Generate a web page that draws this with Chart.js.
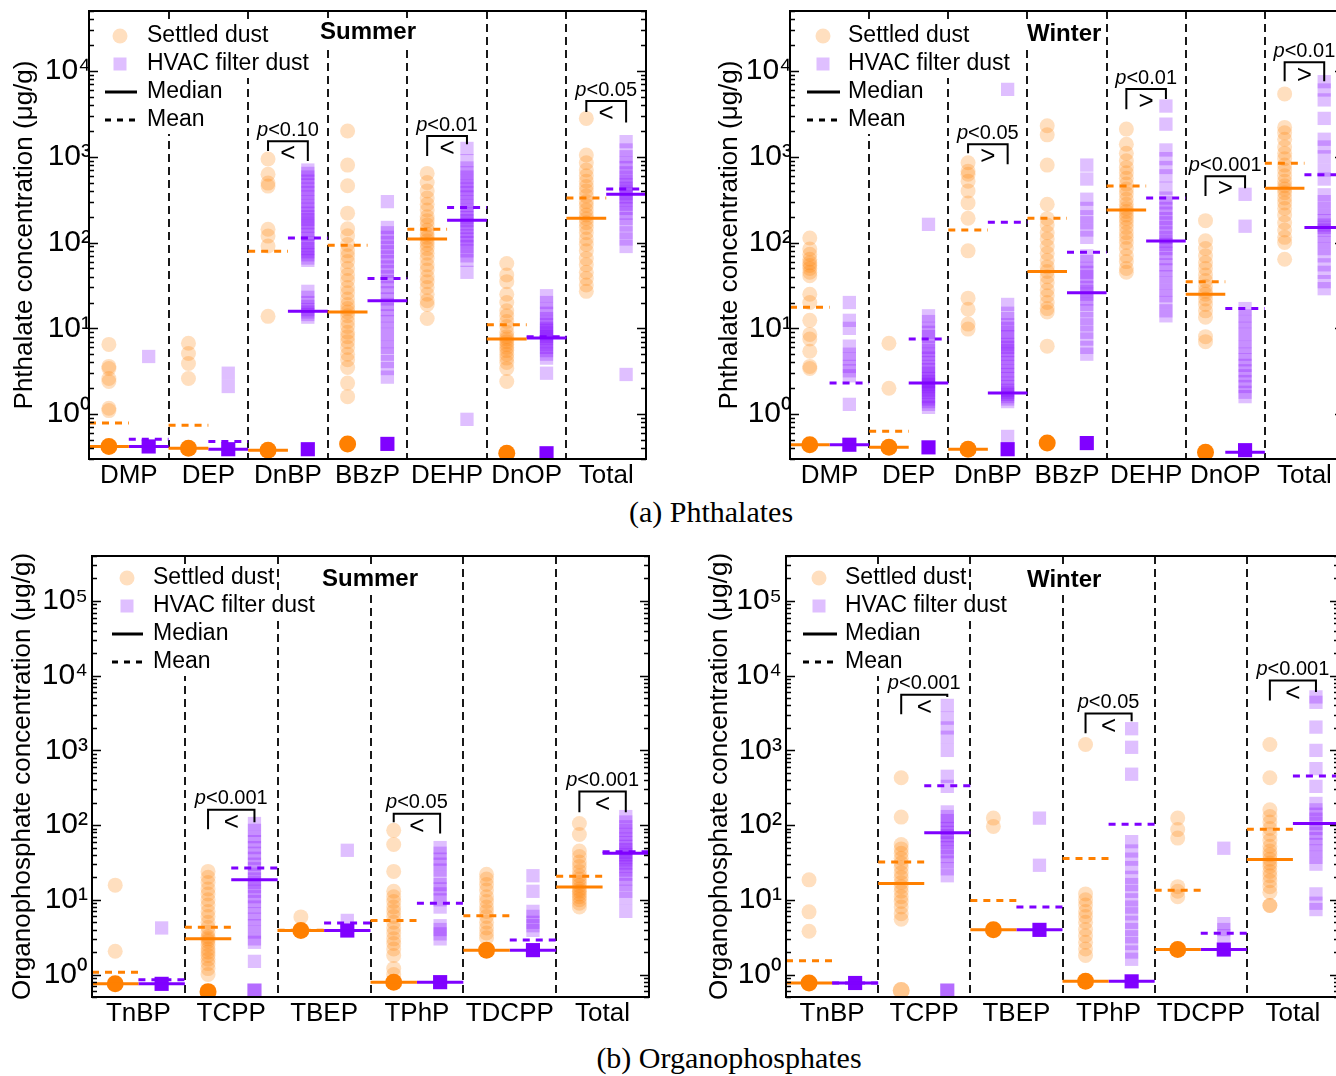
<!DOCTYPE html>
<html><head><meta charset="utf-8">
<script src="https://cdn.jsdelivr.net/npm/chart.js@4.4.1/dist/chart.umd.min.js"></script>
<style>
html,body{margin:0;padding:0;background:#fff;overflow:hidden;width:1336px;height:1076px;position:relative;}
canvas{position:absolute;}
.cap{position:absolute;font-family:'Liberation Serif','Times New Roman',serif;font-size:30px;color:#000;white-space:nowrap;transform:translate(-50%,-50%);line-height:1;}
</style></head><body>
<canvas id="c1" width="660" height="495" style="left:0;top:0"></canvas>
<canvas id="c2" width="660" height="495" style="left:700px;top:0"></canvas>
<canvas id="c3" width="660" height="495" style="left:0;top:540px"></canvas>
<canvas id="c4" width="660" height="495" style="left:700px;top:540px"></canvas>
<div class="cap" style="left:711px;top:512px">(a) Phthalates</div>
<div class="cap" style="left:729px;top:1058px">(b) Organophosphates</div>
<script>
// ---------------- DATA ----------------
const phCats = ['DMP','DEP','DnBP','BBzP','DEHP','DnOP','Total'];
const opCats = ['TnBP','TCPP','TBEP','TPhP','TDCPP','Total'];
const phYTicks = [1, 10, 100, 1000, 10000];
const opYTicks = [1, 10, 100, 1000, 10000, 100000];
const phRange = [0.3, 50000];
const opRange = [0.5, 400000];
const legendLabels = ['Settled dust', 'HVAC filter dust', 'Median', 'Mean'];

// Phthalates, summer
const phSumSettled = [
  [6.5, 3.6, 3.4, 2.6, 2.4, 1.17, 1.1],
  [6.7, 5.1, 3.9, 2.6],
  [940, 626, 493, 455, 143, 119, 91, 13.8],
  [2000, 800, 460, 220, 145, 120, 95, 80, 70, 60, 50, 42, 36, 30, 26, 22, 19, 17, 15.5, 14, 12, 10.5, 9, 8, 7, 6, 5, 4.3, 3.5, 2.3, 1.6],
  [640, 500, 400, 330, 280, 240, 200, 180, 160, 140, 125, 115, 105, 95, 85, 75, 65, 55, 48, 40, 35, 30, 25, 21, 19, 13],
  [57, 42, 35, 25, 20, 16, 14, 12, 10.5, 9, 8, 7.5, 7, 6.5, 6, 5.5, 5, 4.5, 4, 3.4, 2.4],
  [2800, 1050, 850, 700, 600, 520, 450, 400, 350, 300, 270, 240, 210, 190, 170, 150, 130, 110, 95, 80, 65, 55, 45, 38, 32, 27]
];
const phSumHvac = [
  [4.7],
  [3.0, 2.1],
  [700, 640, 580, 520, 470, 420, 380, 340, 300, 270, 245, 220, 200, 185, 170, 155, 140, 125, 112, 100, 92, 85, 78, 72, 66, 62, 27, 23, 20, 18, 16.5, 15.5, 14.5, 13.5],
  [300, 150, 130, 115, 100, 88, 78, 68, 60, 52, 46, 40, 35, 30, 26, 22, 19, 16.5, 14, 12, 10, 8.5, 7, 6, 5, 4.1, 3.4, 2.7],
  [1250, 900, 740, 650, 580, 520, 460, 420, 380, 340, 300, 270, 240, 215, 195, 180, 165, 150, 135, 120, 110, 100, 90, 80, 70, 62, 45, 0.87],
  [24, 20, 17, 15, 13, 12, 11, 10, 9.5, 9, 8.5, 8, 7.7, 7, 6.5, 6, 5.5, 5, 4.5, 3.0],
  [1500, 1200, 1000, 850, 750, 650, 580, 520, 470, 430, 400, 370, 340, 310, 280, 250, 220, 190, 160, 130, 110, 90, 2.9]
];
const phSumSettledND = [0.42, 0.40, 0.38, 0.45, null, 0.35, null];
const phSumHvacND    = [0.42, 0.39, 0.39, 0.45, null, 0.35, null];
const phSumSettledNDn = [20, 20, 20, 20, 0, 20, 0];
const phSumHvacNDn    = [20, 20, 20, 20, 0, 20, 0];
const phSumSettledMedian = [0.42, 0.40, 0.38, 15.5, 110, 7.5, 192];
const phSumHvacMedian    = [0.42, 0.39, 15.8, 21, 182, 7.7, 366];
const phSumSettledMean   = [0.79, 0.74, 79, 93, 143, 11, 330];
const phSumHvacMean      = [0.51, 0.48, 113, 38, 257, 8, 420];
const phSumBrCat   = [2, 4, 6];
const phSumBrP     = ['<0.10', '<0.01', '<0.05'];
const phSumBrSign  = ['<', '<', '<'];
const phSumBrTop   = [1520, 1740, 4460];
const phSumBrLeft  = [1170, 1020, 3330];
const phSumBrRight = [890, 1400, 2510];

// Phthalates, winter
const phWinSettled = [
  [113, 84, 73, 64, 58, 54, 50, 45, 41, 25, 20, 12.4, 8.5, 7.5, 5.4, 3.6, 3.4],
  [6.7, 2.0],
  [850, 680, 625, 520, 400, 290, 192, 80, 22.5, 16.7, 11.2, 9.8],
  [2300, 1800, 800, 280, 190, 160, 130, 110, 90, 75, 62, 52, 46, 40, 34, 28, 24, 20, 17, 15.5, 6.2],
  [2100, 1400, 1100, 900, 750, 650, 560, 480, 420, 370, 320, 280, 250, 230, 210, 190, 170, 150, 130, 115, 100, 85, 70, 60, 50, 45],
  [180, 105, 85, 70, 58, 50, 42, 36, 31, 27, 25, 22, 19, 16, 13.5, 8, 7],
  [5400, 2200, 1900, 1600, 1300, 1100, 950, 800, 700, 600, 520, 460, 420, 380, 330, 290, 250, 210, 170, 140, 115, 100, 64]
];
const phWinHvac = [
  [20, 12.4, 10, 6.2, 5, 4.4, 3.6, 3.2, 2.8, 1.3],
  [163, 14, 12, 10, 9, 8, 7, 6, 5.5, 5, 4.5, 4, 3.6, 3.3, 3, 2.8, 2.6, 2.4, 2.3, 2.2, 2.1, 2, 1.9, 1.8, 1.6, 1.5, 1.4, 1.3, 1.2],
  [6100, 19, 15, 13, 11, 10, 9, 8, 7, 6.5, 6, 5.5, 5, 4.5, 4, 3.6, 3.2, 2.9, 2.6, 2.3, 2.1, 1.9, 1.8, 1.7, 1.6, 1.5, 1.4, 0.55],
  [800, 550, 320, 250, 200, 170, 140, 115, 70, 60, 50, 45, 40, 35, 30, 27, 25, 22, 19, 16, 13, 11, 9, 7.5, 6, 5],
  [3900, 2400, 1200, 950, 750, 600, 430, 330, 290, 250, 220, 190, 170, 150, 130, 115, 104, 95, 85, 75, 65, 55, 48, 40, 34, 28, 24, 20, 16, 14],
  [365, 155, 17, 14, 12, 10, 8.5, 7, 6, 5, 4.3, 3.7, 3.2, 2.8, 2.4, 2.1, 1.8, 1.6],
  [7500, 6000, 4600, 2800, 1600, 1300, 1000, 700, 550, 360, 300, 250, 210, 180, 160, 150, 140, 120, 100, 85, 70, 55, 45, 35, 29]
];
const phWinSettledND = [0.44, 0.41, 0.39, 0.46, null, 0.36, null];
const phWinHvacND    = [0.44, 0.41, 0.39, 0.46, null, 0.38, null];
const phWinSettledNDn = [20, 20, 20, 20, 0, 20, 0];
const phWinHvacNDn    = [20, 20, 20, 20, 0, 20, 0];
const phWinSettledMedian = [0.44, 0.41, 0.39, 46, 240, 25, 430];
const phWinHvacMedian    = [0.44, 2.3, 1.76, 26, 104, 0.36, 150];
const phWinSettledMean   = [17.6, 0.63, 140, 192, 455, 35, 840];
const phWinHvacMean      = [2.3, 7.5, 173, 77, 330, 17, 615];
const phWinBrCat   = [2, 4, 5, 6];
const phWinBrP     = ['<0.05', '<0.01', '<0.001', '<0.01'];
const phWinBrSign  = ['>', '>', '>', '>'];
const phWinBrTop   = [1400, 6150, 594, 12600];
const phWinBrLeft  = [1100, 3590, 348, 7600];
const phWinBrRight = [820, 4700, 430, 7600];

// Organophosphates, summer
const opSumSettled = [
  [15.7, 2.05],
  [24, 20, 17, 14, 12, 10, 8.5, 7, 6, 5, 4.3, 3.7, 3.2, 3.0, 2.8, 2.5, 2.2, 2.0, 1.8, 1.6, 1.4, 1.2, 1.0],
  [5.9],
  [85, 55, 24, 13, 11, 9.5, 8, 7, 6, 5, 4.2, 3.6, 3, 2.6, 2.2, 1.8, 1.2, 1.0],
  [22, 19, 16, 13.5, 11, 9.5, 8, 7, 6, 5, 4.2, 3.6, 3.1],
  [105, 75, 45, 38, 32, 28, 24, 21, 19, 17, 15.5, 14, 13, 12, 11, 10, 9, 8]
];
const opSumHvac = [
  [4.2],
  [105, 85, 70, 60, 50, 42, 36, 30, 26, 22, 19, 17, 15, 13, 11, 9.5, 8, 6.5, 5.5, 4.5, 3.7, 3, 2.7, 1.5],
  [46, 5.3],
  [50, 42, 35, 30, 25, 20, 16, 14, 12, 10, 8, 4.5, 4, 3.5, 3.0],
  [21, 13, 7, 6, 5, 4.5, 3.9],
  [130, 110, 95, 85, 75, 65, 58, 52, 47, 43, 40, 37, 34, 31, 28, 25, 22, 19, 16, 13, 10.5, 7]
];
const opSumSettledND = [0.75, 0.59, 3.88, 0.79, 2.12, null];
const opSumHvacND    = [0.75, 0.61, 3.88, 0.79, 2.12, null];
const opSumSettledNDn = [20, 20, 20, 20, 20, 0];
const opSumHvacNDn    = [20, 3, 20, 20, 20, 0];
const opSumSettledMedian = [0.75, 3.0, 3.88, 0.79, 2.12, 14.8];
const opSumHvacMedian    = [0.75, 18.5, 3.88, 0.79, 2.12, 42];
const opSumSettledMean   = [1.07, 4.3, 3.9, 5.3, 6.1, 20.6];
const opSumHvacMean      = [0.85, 26.6, 4.9, 9.0, 2.9, 44];
const opSumBrCat   = [1, 3, 5];
const opSumBrP     = ['<0.001', '<0.05', '<0.001'];
const opSumBrSign  = ['<', '<', '<'];
const opSumBrTop   = [161, 142, 281];
const opSumBrLeft  = [88, 109, 149];
const opSumBrRight = [109, 77, 149];

// Organophosphates, winter
const opWinSettled = [
  [18.5, 6.9, 3.8],
  [430, 128, 55, 48, 42, 36, 31, 27, 23, 20, 17, 15, 13, 11, 9.5, 8, 6.5, 5.5],
  [124, 96],
  [1200, 12, 10, 8.5, 7, 6, 5, 4, 3.3, 2.7, 2.2, 1.8],
  [124, 87, 67, 15, 13, 11],
  [1200, 430, 160, 130, 110, 90, 75, 62, 52, 45, 40, 35, 31, 28, 24, 21, 18, 15, 12.6, 8.4, 8.4]
];
const opWinHvac = [
  [],
  [4000, 2700, 2000, 1500, 1000, 450, 330, 150, 130, 115, 100, 90, 80, 72, 65, 58, 50, 44, 38, 32, 26, 21],
  [124, 29],
  [1950, 1100, 480, 60, 45, 35, 27, 20, 16, 13, 10, 8, 6.5, 5, 4, 3.2, 2.6, 2, 1.6],
  [49, 4.8, 4, 3.3],
  [5200, 4400, 2050, 1000, 570, 330, 195, 160, 140, 120, 105, 90, 78, 66, 55, 45, 37, 30, 12, 9, 7.4]
];
const opWinSettledND = [0.77, 0.61, 3.96, 0.81, 2.16, null];
const opWinHvacND    = [0.77, 0.61, 3.96, 0.81, 2.16, null];
const opWinSettledNDn = [20, 2, 20, 20, 20, 0];
const opWinHvacNDn    = [20, 3, 20, 20, 20, 0];
const opWinSettledMedian = [0.77, 16.5, 3.96, 0.81, 2.16, 34.7];
const opWinHvacMedian    = [0.77, 79, 3.96, 0.81, 2.16, 105];
const opWinSettledMean   = [1.53, 32, 9.8, 35.7, 13.4, 88];
const opWinHvacMean      = [0.77, 337, 8.0, 103, 3.56, 453];
const opWinBrCat   = [1, 3, 5];
const opWinBrP     = ['<0.001', '<0.05', '<0.001'];
const opWinBrSign  = ['<', '<', '<'];
const opWinBrTop   = [5560, 3110, 8590];
const opWinBrLeft  = [3040, 1700, 4650];
const opWinBrRight = [5170, 2460, 6050];

// ---------------- STYLE / LAYOUT ----------------
const FONT = "'Liberation Sans', Arial, Helvetica, sans-serif";
const ORANGE = [255, 128, 0], PURPLE = [127, 0, 255];
const col = (c, a) => `rgba(${c[0]},${c[1]},${c[2]},${a})`;
const SUP = {'0':'⁰','1':'¹','2':'²','3':'³','4':'⁴','5':'⁵','6':'⁶','7':'⁷','8':'⁸','9':'⁹','-':'⁻'};
const supLabel = v => { const e = Math.round(Math.log10(v)); return '10' + String(e).split('').map(c => SUP[c]).join(''); };

const decor = {
  id: 'decor',
  beforeDatasetsDraw(chart, args, o) {
    const {ctx, chartArea: a, scales: {x}} = chart;
    ctx.save();
    ctx.strokeStyle = '#000'; ctx.lineWidth = 1.8; ctx.setLineDash([8, 5]);
    for (let i = 0; i < o.n - 1; i++) {
      const px = Math.round(x.getPixelForValue(i + 0.5));
      ctx.beginPath(); ctx.moveTo(px, a.top); ctx.lineTo(px, a.bottom); ctx.stroke();
    }
    ctx.setLineDash([]);
    ctx.fillStyle = '#fff';
    ctx.font = `23px ${FONT}`;
    legendLabels.forEach((t, k) => {
      const w = ctx.measureText(t).width;
      const cy = a.top + o.lg.y + k * 28;
      ctx.fillRect(a.left + o.lg.text - 2, cy - 14, w + 4, 28);
    });
    ctx.font = `bold 24px ${FONT}`;
    const tw = ctx.measureText(o.title).width;
    ctx.fillRect(a.left + o.tpos.x - 2, a.top + o.tpos.y - 14, tw + 4, 28);
    ctx.restore();
  },
  afterDatasetsDraw(chart, args, o) {
    const {ctx, chartArea: a, scales: {x, y}} = chart;
    ctx.save();
    // legend
    const mx = a.left + o.lg.mark, ty = k => a.top + o.lg.y + k * 28;
    ctx.fillStyle = col(ORANGE, 0.25);
    ctx.beginPath(); ctx.arc(mx, ty(0), 7.5, 0, Math.PI * 2); ctx.fill();
    ctx.fillStyle = col(PURPLE, 0.25);
    ctx.fillRect(mx - 6.5, ty(1) - 6.5, 13, 13);
    ctx.strokeStyle = '#000'; ctx.lineWidth = 3;
    ctx.beginPath(); ctx.moveTo(a.left + o.lg.line[0], ty(2)); ctx.lineTo(a.left + o.lg.line[1], ty(2)); ctx.stroke();
    ctx.setLineDash([6, 6]);
    ctx.beginPath(); ctx.moveTo(a.left + o.lg.line[0], ty(3)); ctx.lineTo(a.left + o.lg.line[1], ty(3)); ctx.stroke();
    ctx.setLineDash([]);
    ctx.fillStyle = '#000'; ctx.textBaseline = 'middle'; ctx.textAlign = 'left';
    ctx.font = `23px ${FONT}`;
    legendLabels.forEach((t, k) => ctx.fillText(t, a.left + o.lg.text, ty(k)));
    ctx.font = `bold 24px ${FONT}`;
    ctx.fillText(o.title, a.left + o.tpos.x, a.top + o.tpos.y);
    // significance brackets
    o.br.cat.forEach((i, k) => {
      const xl = x.getPixelForValue(i - 0.25), xr = x.getPixelForValue(i + 0.25);
      const yt = y.getPixelForValue(o.br.top[k]);
      const yl = y.getPixelForValue(o.br.left[k]), yr = y.getPixelForValue(o.br.right[k]);
      ctx.strokeStyle = '#000'; ctx.lineWidth = 2;
      ctx.beginPath(); ctx.moveTo(xl, yl); ctx.lineTo(xl, yt); ctx.lineTo(xr, yt); ctx.lineTo(xr, yr); ctx.stroke();
      ctx.font = `italic 20px ${FONT}`; const wp = ctx.measureText('p').width;
      ctx.font = `20px ${FONT}`; const wr = ctx.measureText(o.br.p[k]).width;
      const cx = (xl + xr) / 2, x0 = cx - (wp + wr) / 2;
      ctx.font = `italic 20px ${FONT}`; ctx.fillText('p', x0, yt - 11);
      ctx.font = `20px ${FONT}`; ctx.fillText(o.br.p[k], x0 + wp, yt - 11);
      ctx.font = `26px ${FONT}`; ctx.textAlign = 'center';
      ctx.fillText(o.br.sign[k], cx, yt + 13);
      ctx.textAlign = 'left';
    });
    // frame and inward log ticks
    ctx.strokeStyle = '#000'; ctx.lineWidth = 2;
    ctx.strokeRect(a.left, a.top, a.right - a.left, a.bottom - a.top);
    ctx.lineWidth = 1.5;
    const lo = Math.floor(Math.log10(y.min)), hi = Math.ceil(Math.log10(y.max));
    for (let e = lo; e <= hi; e++) {
      for (let m = 1; m <= 9; m++) {
        const v = m * Math.pow(10, e);
        if (v < y.min || v > y.max) continue;
        const py = Math.round(y.getPixelForValue(v)) + 0.5, len = m === 1 ? 9 : 5;
        ctx.beginPath();
        ctx.moveTo(a.left, py); ctx.lineTo(a.left + len, py);
        ctx.moveTo(a.right, py); ctx.lineTo(a.right - len, py);
        ctx.stroke();
      }
    }
    ctx.restore();
  }
};

const LAYOUT = {
  c1: {w: 660, h: 495, left: 89, right: 646, top: 11, bottom: 459, titlePad: 9, tickPad: -2, xPad: 1,
       lg: {mark: 31, text: 58, y: 25, line: [16, 48]}, tpos: {x: 231, y: 21}},
  c2: {w: 660, h: 495, left: 90, right: 644, top: 11, bottom: 459, titlePad: 14, tickPad: -2, xPad: 1,
       lg: {mark: 33, text: 58, y: 25, line: [17, 50]}, tpos: {x: 237, y: 23}},
  c3: {w: 660, h: 495, left: 92, right: 649, top: 16, bottom: 457, titlePad: 7, tickPad: 4, xPad: 1,
       lg: {mark: 35, text: 61, y: 22, line: [20, 51]}, tpos: {x: 230, y: 23}},
  c4: {w: 660, h: 495, left: 86, right: 639, top: 16, bottom: 457, titlePad: 4, tickPad: 4, xPad: 1,
       lg: {mark: 33, text: 59, y: 22, line: [17, 51]}, tpos: {x: 241, y: 24}}
};

function makePanel(id, D) {
  const L = LAYOUT[id];
  const n = D.cats.length;
  const detected = (arrs, off) => arrs.flatMap((vals, i) => vals.map(v => ({x: i + off, y: v})));
  const nds = (vals, counts, off, c) => {
    const data = [], colors = [];
    vals.forEach((v, i) => { if (v == null) return; data.push({x: i + off, y: v}); colors.push(col(c, 1 - Math.pow(0.75, counts[i]))); });
    return {data, colors};
  };
  const seg = (vals, a, b) => vals.flatMap((v, i) => v == null ? [] : [{x: i + a, y: v}, {x: i + b, y: v}, {x: i + b, y: null}]);
  const lineDs = (data, c, dash) => ({data, showLine: true, borderColor: col(c, 1), borderWidth: 3, borderDash: dash || [],
    pointRadius: 0, fill: false, spanGaps: false, order: 1, borderCapStyle: 'butt'});
  const sND = nds(D.sND, D.sNDn, -0.25, ORANGE), hND = nds(D.hND, D.hNDn, 0.25, PURPLE);
  new Chart(document.getElementById(id), {
    type: 'scatter',
    data: {datasets: [
      lineDs(seg(D.sMed, -0.5, 0), ORANGE),
      lineDs(seg(D.hMed, 0, 0.5), PURPLE),
      lineDs(seg(D.sMean, -0.5, 0), ORANGE, [7, 6]),
      lineDs(seg(D.hMean, 0, 0.5), PURPLE, [7, 6]),
      {data: sND.data, backgroundColor: sND.colors, pointStyle: 'circle', pointRadius: 8.5, borderWidth: 0, order: 2},
      {data: hND.data, backgroundColor: hND.colors, pointStyle: 'rect', pointRadius: 10, borderWidth: 0, order: 2},
      {data: detected(D.settled, -0.25), backgroundColor: col(ORANGE, 0.25), pointStyle: 'circle', pointRadius: 7.5, borderWidth: 0, order: 3},
      {data: detected(D.hvac, 0.25), backgroundColor: col(PURPLE, 0.25), pointStyle: 'rect', pointRadius: 9.4, borderWidth: 0, order: 3}
    ]},
    options: {
      responsive: false, animation: false, devicePixelRatio: 1, events: [],
      layout: {autoPadding: false, padding: {left: 0, top: L.top, right: L.w - L.right, bottom: 0}},
      plugins: {legend: {display: false}, tooltip: {enabled: false},
        decor: {n, lg: L.lg, tpos: L.tpos, title: D.title, br: D.br}},
      scales: {
        x: {type: 'linear', position: 'bottom', min: -0.5, max: n - 0.5,
          grid: {display: false, drawTicks: false}, border: {display: false},
          afterBuildTicks: s => { s.ticks = D.cats.map((c, i) => ({value: i})); },
          ticks: {autoSkip: false, maxRotation: 0, padding: L.xPad, color: '#000',
            font: {size: 26, family: FONT}, callback: v => D.cats[v] ?? ''},
          afterFit: s => { s.height = L.h - L.bottom; s.paddingLeft = 0; s.paddingRight = 0; }},
        y: {type: 'logarithmic', position: 'left', min: D.range[0], max: D.range[1],
          grid: {display: false, drawTicks: false}, border: {display: false},
          afterBuildTicks: s => { s.ticks = D.yTicks.map(v => ({value: v, major: true})); },
          ticks: {autoSkip: false, padding: L.tickPad, color: '#000', font: {size: 30, family: FONT},
            callback: v => supLabel(v)},
          title: {display: true, text: D.yTitle, color: '#000', font: {size: 26, family: FONT},
            padding: {top: L.titlePad, bottom: 0}},
          afterFit: s => { s.width = L.left; s.paddingTop = 0; s.paddingBottom = 0; }}
      }
    },
    plugins: [decor]
  });
}

makePanel('c1', {cats: phCats, yTicks: phYTicks, range: phRange, yTitle: 'Phthalate concentration (μg/g)', title: 'Summer',
  settled: phSumSettled, hvac: phSumHvac, sND: phSumSettledND, hND: phSumHvacND, sNDn: phSumSettledNDn, hNDn: phSumHvacNDn,
  sMed: phSumSettledMedian, hMed: phSumHvacMedian, sMean: phSumSettledMean, hMean: phSumHvacMean,
  br: {cat: phSumBrCat, p: phSumBrP, sign: phSumBrSign, top: phSumBrTop, left: phSumBrLeft, right: phSumBrRight}});
makePanel('c2', {cats: phCats, yTicks: phYTicks, range: phRange, yTitle: 'Phthalate concentration (μg/g)', title: 'Winter',
  settled: phWinSettled, hvac: phWinHvac, sND: phWinSettledND, hND: phWinHvacND, sNDn: phWinSettledNDn, hNDn: phWinHvacNDn,
  sMed: phWinSettledMedian, hMed: phWinHvacMedian, sMean: phWinSettledMean, hMean: phWinHvacMean,
  br: {cat: phWinBrCat, p: phWinBrP, sign: phWinBrSign, top: phWinBrTop, left: phWinBrLeft, right: phWinBrRight}});
makePanel('c3', {cats: opCats, yTicks: opYTicks, range: opRange, yTitle: 'Organophosphate concentration (μg/g)', title: 'Summer',
  settled: opSumSettled, hvac: opSumHvac, sND: opSumSettledND, hND: opSumHvacND, sNDn: opSumSettledNDn, hNDn: opSumHvacNDn,
  sMed: opSumSettledMedian, hMed: opSumHvacMedian, sMean: opSumSettledMean, hMean: opSumHvacMean,
  br: {cat: opSumBrCat, p: opSumBrP, sign: opSumBrSign, top: opSumBrTop, left: opSumBrLeft, right: opSumBrRight}});
makePanel('c4', {cats: opCats, yTicks: opYTicks, range: opRange, yTitle: 'Organophosphate concentration (μg/g)', title: 'Winter',
  settled: opWinSettled, hvac: opWinHvac, sND: opWinSettledND, hND: opWinHvacND, sNDn: opWinSettledNDn, hNDn: opWinHvacNDn,
  sMed: opWinSettledMedian, hMed: opWinHvacMedian, sMean: opWinSettledMean, hMean: opWinHvacMean,
  br: {cat: opWinBrCat, p: opWinBrP, sign: opWinBrSign, top: opWinBrTop, left: opWinBrLeft, right: opWinBrRight}});
</script>
</body></html>
